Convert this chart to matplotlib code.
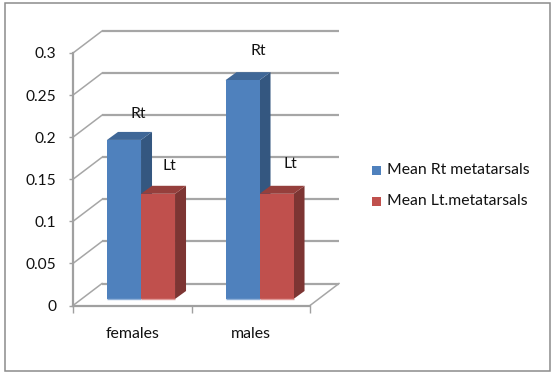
import matplotlib
matplotlib.use("Agg")
import matplotlib.pyplot as plt
from matplotlib.patches import Polygon, Rectangle
from matplotlib.transforms import Affine2D

categories = ["females", "males"]
series_names = ["Mean Rt metatarsals", "Mean Lt.metatarsals"]
rt_values = [0.189, 0.26]
lt_values = [0.125, 0.125]
point_labels = ["Rt", "Lt"]
y_ticks = [0, 0.05, 0.1, 0.15, 0.2, 0.25, 0.3]
y_tick_labels = ["0", "0.05", "0.1", "0.15", "0.2", "0.25", "0.3"]

W, H = 554, 375
plt.rcParams["font.family"] = ["Lato", "DejaVu Sans"]
fig = plt.figure(figsize=(W / 100, H / 100), dpi=100)
fig.patch.set_facecolor("white")
fig.add_artist(Rectangle((4.5 / W, 1 - 371 / H), 545.5 / W, 368.5 / H, transform=fig.transFigure,
                         fill=False, ec="#8c8c8c", lw=1.1))

L, R, T, B = 73, 310, 53, 305.5
ax = fig.add_axes([L / W, 1 - B / H, (R - L) / W, (B - T) / H])
ax.patch.set_alpha(0)
ax.set_xlim(0, 2)
ax.set_ylim(0, 0.3)
for s in ("top", "right"):
    ax.spines[s].set_visible(False)
for s in ("left", "bottom"):
    ax.spines[s].set_color("#a0a0a0")
    ax.spines[s].set_linewidth(1.6)
ax.set_xticks([0, 1, 2], labels=[])
ax.set_xticks([0.5, 1.5], labels=categories, minor=True)
ax.tick_params(axis="x", which="major", length=5, width=1, color="#a0a0a0")
ax.tick_params(axis="x", which="minor", length=0, pad=15.5, labelsize=11.4, labelcolor="#111111")
ax.set_yticks(y_ticks, labels=y_tick_labels)
ax.tick_params(axis="y", length=3, width=1, color="#a0a0a0", pad=9, labelsize=11.2, labelcolor="#111111")

def depth(dx, dy):
    return ax.transData + Affine2D().translate(dx, dy)

WALL = depth(29, 22)
FLOOR = depth(9, 6.5)
GRID = "#a6a6a6"
for v in y_ticks:
    ax.plot([0, 2], [v, v], transform=WALL, color=GRID, lw=1.6, clip_on=False, zorder=1, solid_capstyle="butt")
    p0 = ax.transData.transform((0, v))
    ax.plot([p0[0], p0[0] + 29], [p0[1], p0[1] + 22], transform=None, color=GRID, lw=1.1,
            clip_on=False, zorder=1)
p0 = ax.transData.transform((2, 0))
ax.plot([p0[0], p0[0] + 29], [p0[1], p0[1] + 22], transform=None, color=GRID, lw=1.1, clip_on=False, zorder=1)

BAR_W = 0.287
SHIFT = 9 / 118.5
def bar3d(x0, v, front, top, side, base):
    t = FLOOR
    a = t.transform((x0, 0))
    b = t.transform((x0 + BAR_W, v))
    dx, dy = 11, 8
    ax.add_patch(Polygon([(b[0], a[1]), (b[0] + dx, a[1] + dy), (b[0] + dx, b[1] + dy), (b[0], b[1])],
                         transform=None, fc=side, ec="none", zorder=3, clip_on=False))
    ax.add_patch(Polygon([(a[0], b[1]), (b[0], b[1]), (b[0] + dx, b[1] + dy), (a[0] + dx, b[1] + dy)],
                         transform=None, fc=top, ec="none", zorder=3, clip_on=False))
    ax.bar(x0, v, width=BAR_W, align="edge", color=front, transform=FLOOR, zorder=4, clip_on=False)
    ax.plot([x0, x0 + BAR_W], [0, 0], transform=FLOOR, color=base, lw=1, zorder=5, clip_on=False,
            solid_capstyle="butt")

for i, cat in enumerate(categories):
    bar3d(i + 0.287 - SHIFT, rt_values[i], "#4f81bd", "#3f6797", "#345780", "#8fb0d8")
    bar3d(i + 0.574 - SHIFT, lt_values[i], "#c0504d", "#953f3c", "#7d3533", "#e09a98")

label_offsets = {(0, 0): (-3, 19), (0, 1): (-6, 21), (1, 0): (-1, 22), (1, 1): (-3, 23)}
for i in range(len(categories)):
    for j, vals in enumerate((rt_values, lt_values)):
        ox, oy = label_offsets[(i, j)]
        x0 = i + 0.287 - SHIFT + j * BAR_W + BAR_W
        ax.annotate(point_labels[j], (x0, vals[i]), xycoords=FLOOR,
                    xytext=(ox * 0.72, oy * 0.72), textcoords="offset points",
                    ha="center", va="bottom", fontsize=11.3, color="#111111", zorder=6, annotation_clip=False)

for name, color, y in zip(series_names, ["#4f81bd", "#c0504d"], [170, 201]):
    fig.add_artist(Rectangle((372 / W, 1 - (y + 4.5) / H), 9 / W, 9 / H, transform=fig.transFigure,
                             fc=color, ec="none"))
    fig.text(387 / W, 1 - y / H, name, fontsize=11.3, va="center", ha="left", color="#111111")

fig.savefig("out.png", dpi=100)
